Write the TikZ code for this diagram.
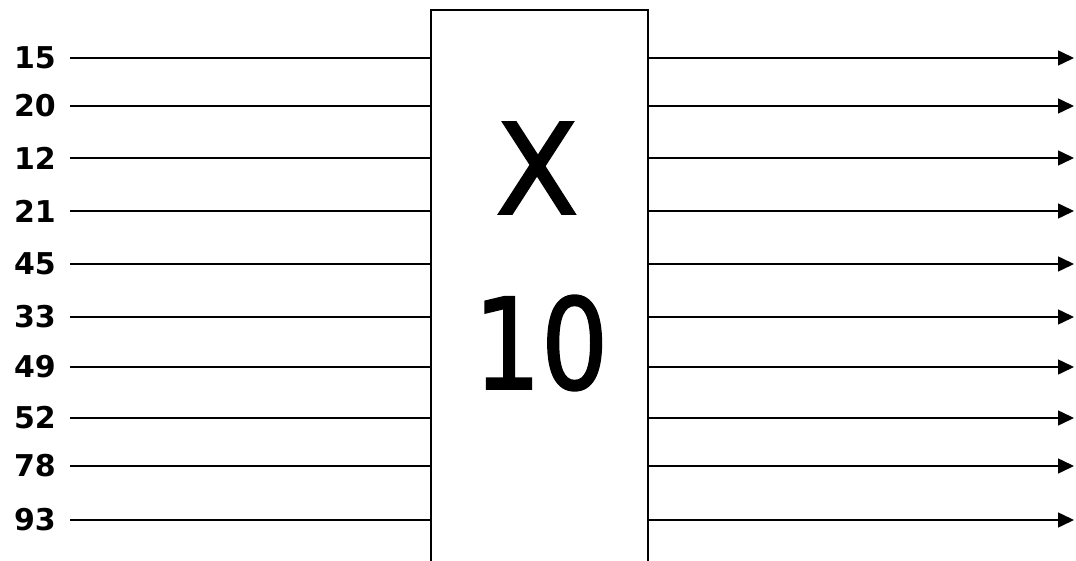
\documentclass[tikz,border=0pt]{standalone}
\usepackage{fontspec}
\setmainfont{DejaVu Sans}
\newfontfamily\bigfont[FakeBold=1.6]{DejaVu Sans}
\usetikzlibrary{arrows.meta}
\tikzset{
  wire/.style    = {line width=1.5pt},
  outarr/.style  = {-{Triangle[length=16pt,width=15pt]},line width=1.5pt},
  valbox/.style  = {draw,line width=1.6pt,minimum width=217pt,minimum height=552pt,inner sep=0pt},
  inlabel/.style = {anchor=east,font=\fontsize{30}{31}\selectfont\bfseries,inner sep=0pt},
  bigtxt/.style  = {font=\fontsize{126}{126}\bigfont,xscale=0.84,transform shape}
}
\begin{document}
\begin{tikzpicture}[x=1pt,y=-1pt]
  \useasboundingbox (0,0) rectangle (1076,561);
  \node[valbox] (box) at (539.5,286) {};
  \node[bigtxt,xscale=1.15] (times) at (537,168) {X};
  \node[bigtxt] (ten) at (541,343) {10};
  \foreach \v/\y [count=\i] in {15/58,20/106,12/158,21/211,45/264,33/317,49/367,52/418,78/466,93/520}{
    \node[inlabel] (in\i) at (56,\y) {\v};
    \coordinate (out\i) at (1074,\y);
    \draw[wire] (70,\y) -- (box.west |- in\i);
    \draw[outarr] (box.east |- in\i) -- (out\i);
  }
\end{tikzpicture}
\end{document}
